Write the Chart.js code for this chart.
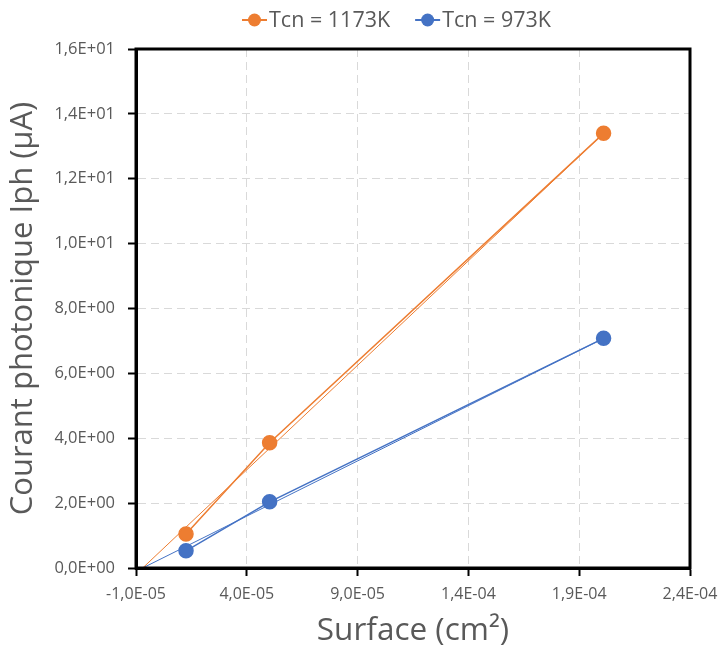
<!DOCTYPE html>
<html>
<head>
<meta charset="utf-8">
<script src="https://cdn.jsdelivr.net/npm/chart.js@4.4.1/dist/chart.umd.min.js"></script>
<style>
  html, body { margin: 0; padding: 0; background: #fff; }
  #wrap { width: 721px; height: 650px; position: relative; }
</style>
</head>
<body>
<div id="wrap"><canvas id="chart"></canvas></div>
<script>
// surfaces (cm²) and photocurrents (µA)
const surfaces = [1.257e-5, 5.03e-5, 2.01e-4];
const iphHot = [1.05, 3.86, 13.40];   // Tcn = 1173K
const iphCold = [0.53, 2.04, 7.08];   // Tcn = 973K

// linear trend lines (start at x-intercept, end at last point)
const trendX = [-7.0e-6, 2.01e-4];
const trendHot = [0, 13.40];
const trendCold = [0, 7.08];

const seriesLabels = ['Tcn = 1173K', 'Tcn = 973K'];
const xTicks = { min: -1.0e-5, max: 2.4e-4, step: 5.0e-5 };
const yTicks = { min: 0, max: 16, step: 2 };

const ORANGE = '#ED7D31';
const BLUE = '#4472C4';
const TEXT = '#595959';
const FONT = '"Open Sans", Lato, sans-serif';

function toPoints(xs, ys) {
  return xs.map((x, i) => ({ x, y: ys[i] }));
}

// Excel style "4,0E-05"
function sci(v) {
  const [m, e] = Number(v).toExponential(1).split('e');
  const n = parseInt(e, 10);
  return m.replace('.', ',') + 'E' + (n < 0 ? '-' : '+') + String(Math.abs(n)).padStart(2, '0');
}

// frame around the plot area (top and right sides too)
const frame = {
  id: 'frame',
  afterDraw(chart) {
    const { ctx, chartArea: a } = chart;
    ctx.save();
    ctx.strokeStyle = '#000';
    ctx.lineWidth = 3;
    ctx.strokeRect(a.left, a.top, a.right - a.left, a.bottom - a.top);
    ctx.restore();
  },
};

// legend with line + marker, like the original
const lineLegend = {
  id: 'lineLegend',
  afterDraw(chart) {
    const { ctx } = chart;
    const items = chart.data.datasets.filter((d) => !d.isTrend);
    ctx.save();
    ctx.font = '21.5px ' + FONT;
    ctx.textBaseline = 'middle';
    let x = 242;
    const y = 20;
    items.forEach((d) => {
      ctx.strokeStyle = d.borderColor;
      ctx.lineWidth = 2;
      ctx.beginPath();
      ctx.moveTo(x, y);
      ctx.lineTo(x + 25, y);
      ctx.stroke();
      ctx.fillStyle = d.backgroundColor;
      ctx.beginPath();
      ctx.arc(x + 12.5, y, 6.5, 0, Math.PI * 2);
      ctx.fill();
      ctx.fillStyle = TEXT;
      ctx.fillText(d.label, x + 27, y + 1);
      x += 27 + ctx.measureText(d.label).width + 25;
    });
    ctx.restore();
  },
};

const canvas = document.getElementById('chart');

new Chart(canvas, {
  type: 'scatter',
  data: {
    datasets: [
      {
        label: seriesLabels[0],
        data: toPoints(surfaces, iphHot),
        borderColor: ORANGE,
        backgroundColor: ORANGE,
        showLine: true,
        borderWidth: 1.5,
        pointRadius: 7,
        pointHoverRadius: 7,
      },
      {
        label: seriesLabels[1],
        data: toPoints(surfaces, iphCold),
        borderColor: BLUE,
        backgroundColor: BLUE,
        showLine: true,
        borderWidth: 1.5,
        pointRadius: 7,
        pointHoverRadius: 7,
      },
      {
        label: 'trend 1173K',
        isTrend: true,
        data: toPoints(trendX, trendHot),
        borderColor: ORANGE,
        showLine: true,
        borderWidth: 1,
        pointRadius: 0,
      },
      {
        label: 'trend 973K',
        isTrend: true,
        data: toPoints(trendX, trendCold),
        borderColor: BLUE,
        showLine: true,
        borderWidth: 1,
        pointRadius: 0,
      },
    ],
  },
  options: {
    responsive: true,
    maintainAspectRatio: false,
    animation: false,
    layout: { padding: { top: 49, right: 31, bottom: 0, left: 0 } },
    plugins: {
      legend: { display: false },
      tooltip: { enabled: false },
    },
    scales: {
      x: {
        type: 'linear',
        min: xTicks.min,
        max: xTicks.max,
        afterFit(scale) {
          scale.height = 82;
          scale.paddingRight = 0;
          scale.paddingLeft = 0;
        },
        ticks: {
          stepSize: xTicks.step,
          color: TEXT,
          font: { family: FONT, size: 16 },
          padding: 9,
          maxRotation: 0,
          callback: (v) => sci(v),
        },
        grid: {
          color: '#d9d9d9',
          tickColor: '#000',
          tickLength: 8,
          tickWidth: 2,
          tickBorderDash: [],
        },
        border: { color: '#000', width: 3, dash: [8, 5] },
        title: {
          display: true,
          text: 'Surface (cm²)',
          color: TEXT,
          font: { family: FONT, size: 31.5 },
          padding: { top: -3, bottom: 0 },
        },
      },
      y: {
        min: yTicks.min,
        max: yTicks.max,
        afterFit(scale) { scale.width = 136; },
        ticks: {
          stepSize: yTicks.step,
          color: TEXT,
          font: { family: FONT, size: 16.5 },
          padding: 13,
          callback: (v) => sci(v),
        },
        grid: {
          color: '#d9d9d9',
          tickColor: '#000',
          tickLength: 8,
          tickWidth: 2,
          tickBorderDash: [],
        },
        border: { color: '#000', width: 3, dash: [8, 5] },
        title: {
          display: true,
          text: 'Courant photonique Iph (µA)',
          color: TEXT,
          font: { family: FONT, size: 31 },
          padding: { top: 5, bottom: 0 },
        },
      },
    },
  },
  plugins: [frame, lineLegend],
});
</script>
</body>
</html>
